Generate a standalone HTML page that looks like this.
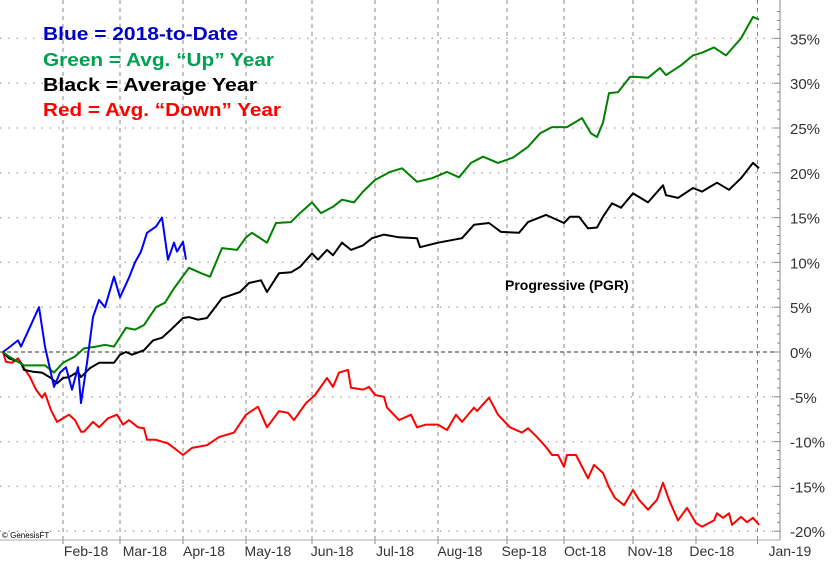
<!DOCTYPE html>
<html><head><meta charset="utf-8"><style>
html,body{margin:0;padding:0;background:#fff;}
svg{display:block;font-family:"Liberation Sans",sans-serif;}
</style></head><body>
<svg id="chart" width="832" height="561">
<g id="grid"></g>
<g id="axes"></g>
<g id="series"></g>
<g font-weight="bold" font-size="18">
<text x="43" y="40" fill="#0000cc" textLength="195" lengthAdjust="spacingAndGlyphs">Blue = 2018-to-Date</text>
<text x="43" y="66" fill="#00a050" textLength="231" lengthAdjust="spacingAndGlyphs">Green = Avg. “Up” Year</text>
<text x="43" y="91" fill="#000" textLength="214" lengthAdjust="spacingAndGlyphs">Black = Average Year</text>
<text x="43" y="116" fill="#ff0000" textLength="238" lengthAdjust="spacingAndGlyphs">Red = Avg. “Down” Year</text>
</g>
<text x="505" y="290" font-weight="bold" font-size="14" fill="#000">Progressive (PGR)</text>
<text x="2" y="538" font-size="8" fill="#000">© GenesisFT</text>
</svg>
<script>
const yTicks=[35,30,25,20,15,10,5,0,-5,-10,-15,-20];
const monthLabels=["Feb-18","Mar-18","Apr-18","May-18","Jun-18","Jul-18","Aug-18","Sep-18","Oct-18","Nov-18","Dec-18","Jan-19"];
const monthStartDays=[20,39,60,81,103,124,145,168,187,210,231,251.5];
const labelDays=[27.7,47.3,67,88.3,109.7,130.7,152.3,173.7,194,215.7,236.3,262.3];
const blueDays=[0,2,5,6,9,12,14,17,19,21,23,25,26,28,30,32,34,37,39,42,44,46,48,51,53,55,57,58,60,61];
const blueVals=[0,0.5,1.3,0.6,2.8,5.0,0.6,-3.9,-2.3,-1.7,-4.2,-1.7,-5.7,-1.2,3.9,5.8,5.0,8.4,6.1,8.3,10,11.2,13.3,14,15,10.3,12.2,11.2,12.3,10.3];
const greenDays=[0,2,7,14,17,20,24,27,31,34,37,41,44,47,51,54,57,62,66,69,73,78,81,83,88,91,96,99,103,106,110,113,117,120,124,129,133,138,143,148,152,156,160,165,170,175,179,183,188,193,196,198,200,202,205,209,211,215,219,221,226,230,233,237,241,246,250,252];
const greenVals=[0,-0.5,-1.5,-1.5,-2.3,-1.2,-0.5,0.4,0.6,0.8,0.6,2.7,2.5,3.0,5.0,5.5,7.1,9.4,8.8,8.4,11.6,11.4,12.8,13.3,12.2,14.4,14.5,15.5,16.7,15.5,16.2,17,16.7,17.9,19.2,20.1,20.5,19,19.4,20.1,19.5,21.1,21.8,21.1,21.7,22.9,24.4,25.1,25.1,26.1,24.4,24,25.6,28.9,29,30.7,30.7,30.6,31.7,30.9,32,33.1,33.4,34,33.1,35,37.4,37.1];
const blackDays=[0,2,6,7,10,13,16,18,20,22,25,26,29,32,37,39,41,43,47,50,53,56,60,62,65,68,73,79,82,86,88,92,96,99,103,105,108,110,113,116,120,123,127,132,138,139,145,153,157,162,166,172,175,181,187,189,192,195,198,200,203,206,210,215,220,221,225,230,233,238,242,246,250,252];
const blackVals=[0,-0.7,-1.2,-2,-2.2,-2.3,-2.9,-3.5,-2.9,-2.8,-2.2,-2.8,-1.8,-1.2,-1.2,-0.3,0,-0.3,0.2,1.3,1.6,2.5,3.8,3.9,3.6,3.8,6,6.7,7.7,8,6.7,8.8,8.9,9.5,11,10.3,11.4,10.8,12.2,11.4,11.9,12.7,13.1,12.8,12.7,11.7,12.2,12.7,14.2,14.4,13.4,13.3,14.5,15.3,14.4,15.1,15.1,13.8,13.9,15.1,16.6,16.1,17.7,16.7,18.6,17.5,17.2,18.3,17.9,18.9,18.1,19.4,21.1,20.5];
const redDays=[0,1,3,5,7,9,11,13,14,16,18,22,24,26,27,30,32,35,38,40,42,45,47,48,51,55,57,60,63,68,72,77,81,85,88,92,95,97,101,104,108,110,112,115,116,120,122,124,127,128,132,136,138,141,145,148,151,153,157,158,162,165,169,173,175,178,181,183,185,187,188,191,195,197,200,202,204,207,210,212,215,218,220,222,225,228,231,233,237,238,240,242,243,246,248,250,252];
const redVals=[0,-1.1,-1.2,-0.7,-1.8,-2.8,-4.2,-5.1,-4.6,-6.5,-7.8,-7,-7.6,-8.9,-8.9,-7.8,-8.4,-7.4,-7,-8.1,-7.6,-8.4,-8.5,-9.8,-9.8,-10.2,-10.7,-11.5,-10.7,-10.4,-9.5,-9,-7,-6.1,-8.4,-6.6,-6.8,-7.6,-5.7,-4.8,-2.9,-3.9,-2.3,-2,-4,-4.2,-3.9,-4.8,-5,-6.2,-7.6,-7,-8.4,-8.1,-8.1,-8.7,-7,-7.8,-6.2,-6.6,-5.1,-7,-8.4,-9,-8.5,-9.5,-10.6,-11.5,-11.5,-12.8,-11.5,-11.5,-14.1,-12.6,-13.5,-15.1,-16.3,-17.1,-15.4,-16.5,-17.6,-16.5,-14.6,-16.5,-18.8,-17.4,-19.1,-19.5,-18.8,-18,-18.5,-18,-19.3,-18.4,-19,-18.5,-19.3];

const NS="http://www.w3.org/2000/svg";
function xS(d){return 3+d*3.0;}
function yS(v){return 352-v*8.96;}
function mk(tag,attrs,parent){const e=document.createElementNS(NS,tag);for(const k in attrs)e.setAttribute(k,attrs[k]);parent.appendChild(e);return e;}
const grid=document.getElementById('grid'),axes=document.getElementById('axes'),ser=document.getElementById('series');
const R=780,B=540;
yTicks.forEach(v=>{
  const y=yS(v);
  if(v!==0){const l=mk('line',{x1:0,x2:R,y1:y,y2:y,stroke:'#999','stroke-width':1.3,'stroke-dasharray':'1.3,7'},grid);
  
  }
  const t=mk('line',{x1:R-6,x2:R,y1:y,y2:y,stroke:'#888','stroke-width':1},axes);
  
  
  const tx=mk('text',{x:790,y:y+6,'font-size':15,fill:'#333'},axes);
  tx.textContent=v+'%';
  
  
});
for(let v=-20;v<=38;v++){if(v%5===0)continue;const y=yS(v);
  const t=mk('line',{x1:R-3,x2:R,y1:y,y2:y,stroke:'#888','stroke-width':1},axes);
  
  }
monthStartDays.forEach((d,i)=>{
  const x=xS(d);
  const l=mk('line',{x1:x,x2:x,y1:0,y2:B,stroke:'#888','stroke-width':1,'stroke-dasharray':'4,4'},grid);
  
  
  const t=mk('line',{x1:x,x2:x,y1:B,y2:B+4,stroke:'#888'},axes);
  
  
});
monthLabels.forEach((m,i)=>{
  const tx=mk('text',{x:xS(labelDays[i]),y:556,'font-size':14,fill:'#333','text-anchor':'middle'},axes);
  tx.textContent=m;
  
  
});
const ax=mk('line',{x1:R,x2:R,y1:0,y2:B,stroke:'#888','stroke-width':1},axes);


const bx=mk('line',{x1:0,x2:R,y1:B,y2:B,stroke:'#aaa','stroke-width':1},axes);


const z=mk('line',{x1:0,x2:R,y1:yS(0),y2:yS(0),stroke:'#333','stroke-width':1,'stroke-dasharray':'4,3'},grid);


function line(days,vals,color,name){
  const p=days.map((d,i)=>xS(d).toFixed(1)+','+yS(vals[i]).toFixed(1)).join(' ');
  const e=mk('polyline',{points:p,fill:'none',stroke:color,'stroke-width':2,'stroke-linejoin':'round'},ser);
  
  
}
line(redDays,redVals,'#ff0000','red-down-year-line');
line(blackDays,blackVals,'#000000','black-average-year-line');
line(greenDays,greenVals,'#008000','green-up-year-line');
line(blueDays,blueVals,'#0000ff','blue-2018-line');
</script>
</body></html>
